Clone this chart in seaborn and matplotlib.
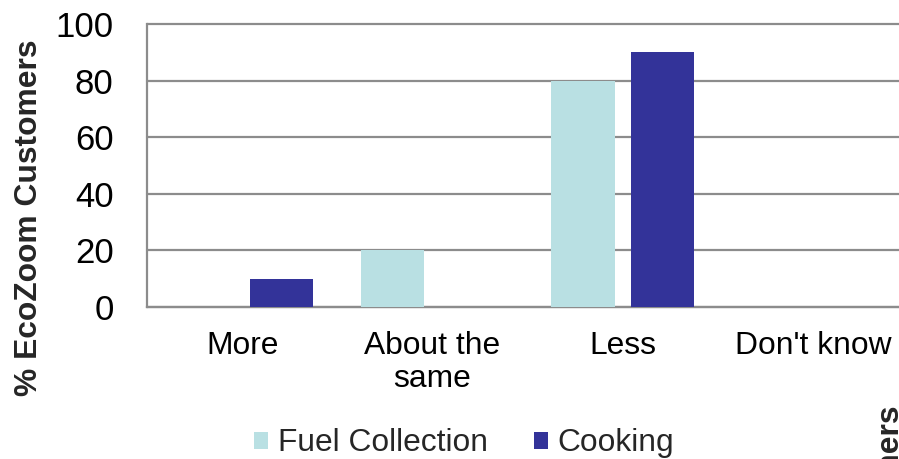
import matplotlib
matplotlib.use("Agg")
import matplotlib.pyplot as plt
from matplotlib.patches import Patch
import pandas as pd
import seaborn as sns

# Share of EcoZoom customers by answer, for two activities
categories = ["More", "About the\nsame", "Less", "Don't know"]
series = ["Fuel Collection", "Cooking"]
fuel_collection = [0, 20, 80, 0]
cooking = [10, 0, 90, 0]
y_ticks = [0, 20, 40, 60, 80, 100]
y_label = "% EcoZoom Customers"

colors = {"Fuel Collection": "#B9E0E3", "Cooking": "#333399"}
grid_color = "#8C8C8C"

df = pd.DataFrame({
    "answer": categories * 2,
    "series": [series[0]] * len(categories) + [series[1]] * len(categories),
    "value": fuel_collection + cooking,
})

sns.set_theme(style="white")
plt.rcParams["font.family"] = ["Liberation Sans", "DejaVu Sans"]
FS = 22.9

fig = plt.figure(figsize=(8.99, 4.59), dpi=100)
ax = fig.add_axes([0.1635, 0.3312, 0.8465, 0.6166])

sns.barplot(data=df, x="answer", y="value", hue="series",
            order=categories, hue_order=series, palette=colors,
            width=0.832, gap=0.2, saturation=1, linewidth=0,
            legend=False, ax=ax, zorder=3)

ax.set_xlim(-0.5, 3.5)
ax.set_ylim(0, 100)
ax.set_yticks(y_ticks)
ax.set_xlabel("")
ax.set_ylabel("")

ax.yaxis.grid(True, color=grid_color, linewidth=1.6, zorder=0)
ax.xaxis.grid(False)
for gl in ax.get_ygridlines():
    gl.set_clip_on(False)
ax.set_axisbelow(True)

for side in ["top", "right"]:
    ax.spines[side].set_visible(False)
for side in ["left", "bottom"]:
    ax.spines[side].set_color(grid_color)
    ax.spines[side].set_linewidth(1.6)

ax.tick_params(axis="y", length=0, pad=24, labelsize=25, colors="black")
ax.tick_params(axis="x", length=0, pad=17, labelsize=FS, colors="black")
for lbl in ax.get_xticklabels():
    lbl.set_linespacing(1.16)

fig.text(37 / 899, 1 - 218 / 459, y_label, rotation=90, rotation_mode="anchor",
         ha="center", va="baseline", fontsize=FS, fontweight="bold")

# Second axis title peeking in at the lower-right edge
fig.text(899 / 899, 1 - 405 / 459, y_label, rotation=90, rotation_mode="anchor",
         ha="right", va="baseline", fontsize=FS, fontweight="bold")

handles = [Patch(facecolor=colors[s], edgecolor="none", label=s) for s in series]
fig.legend(handles=handles, loc="center", bbox_to_anchor=(0.516, 0.034),
           ncol=2, frameon=False, fontsize=FS, handlelength=0.45,
           handleheight=0.45, handletextpad=0.3, columnspacing=1.45,
           borderpad=0)

fig.savefig("out.png", dpi=100)
